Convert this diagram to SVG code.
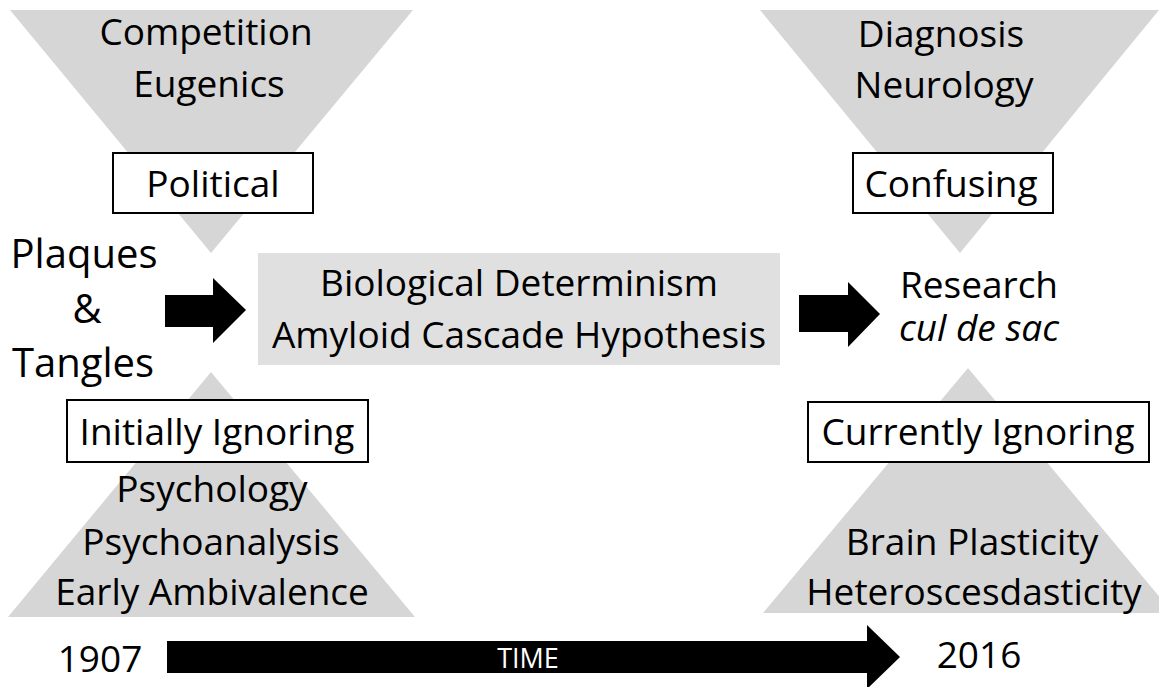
<svg xmlns="http://www.w3.org/2000/svg" width="1159" height="687" viewBox="0 0 1159 687">
<style>
.tri{fill:#d6d6d6}
.box{fill:#ffffff;stroke:#000000;stroke-width:2}
.t{font-family:"Open Sans","Liberation Sans",sans-serif;font-size:37px;fill:#000000;text-anchor:middle}
.big{font-size:40px}
.arrow{fill:#000000}
</style>
<rect width="1159" height="687" fill="#ffffff"/>
<g id="funnel-top-left">
<polygon class="tri" points="10,10 413,10 211,253"/>
<text class="t" x="206" y="45">Competition</text>
<text class="t" x="209" y="97">Eugenics</text>
</g>
<g id="political">
<rect class="box" x="113" y="153" width="200" height="60"/>
<text class="t" x="213" y="197">Political</text>
</g>
<g id="funnel-bottom-left">
<polygon class="tri" points="8,617 415,617 211,372"/>
<text class="t" x="212" y="502">Psychology</text>
<text class="t" x="211" y="555">Psychoanalysis</text>
<text class="t" x="212" y="605">Early Ambivalence</text>
</g>
<g id="initially-ignoring">
<rect class="box" x="67" y="400" width="301" height="62"/>
<text class="t" x="217" y="445">Initially Ignoring</text>
</g>
<g id="plaques">
<text class="t big" x="84" y="268">Plaques</text>
<text class="t big" x="87" y="323">&amp;</text>
<text class="t big" x="83" y="377">Tangles</text>
</g>
<g id="determinism">
<rect x="258" y="253" width="522" height="112" fill="#e0e0e0"/>
<text class="t" x="519" y="296">Biological Determinism</text>
<text class="t" x="519" y="348">Amyloid Cascade Hypothesis</text>
</g>
<g id="funnel-top-right">
<polygon class="tri" points="760,10 1159,10 960,253"/>
<text class="t" x="941" y="47">Diagnosis</text>
<text class="t" x="944" y="98">Neurology</text>
</g>
<g id="confusing">
<rect class="box" x="853" y="153" width="200" height="60"/>
<text class="t" x="951" y="197">Confusing</text>
</g>
<g id="funnel-bottom-right">
<polygon class="tri" points="763,613 1173,613 968,368"/>
<text class="t" x="972" y="555">Brain Plasticity</text>
<text class="t" x="974" y="605">Heteroscesdasticity</text>
</g>
<g id="currently-ignoring">
<rect class="box" x="808" y="402" width="341" height="60"/>
<text class="t" x="978" y="445">Currently Ignoring</text>
</g>
<g id="research">
<text class="t" x="979" y="298">Research</text>
<text class="t" x="979" y="341" font-style="italic">cul de sac</text>
</g>
<g id="years">
<text class="t" x="100" y="672">1907</text>
<text class="t" x="979" y="668">2016</text>
</g>
<g id="connectors">
<polygon class="arrow" points="165,295 213,295 213,278 246,310 213,343 213,327 165,327"/>
<polygon class="arrow" points="799,295 848,295 848,282 880,314 848,347 848,332 799,332"/>
<polygon class="arrow" points="167,641 867,641 867,625 900,657 867,689 867,673 167,673"/>
<text x="528" y="668" font-family="Open Sans, Liberation Sans, sans-serif" font-size="27" fill="#ffffff" text-anchor="middle">TIME</text>
</g>
</svg>
